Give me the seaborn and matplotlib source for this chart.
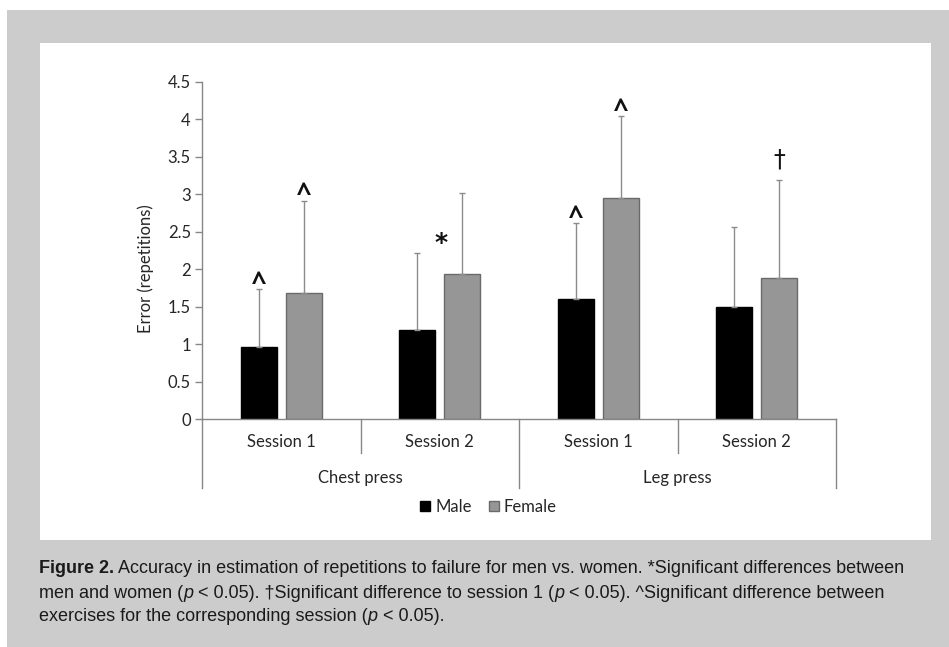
import matplotlib
matplotlib.use('Agg')
import matplotlib.pyplot as plt
import matplotlib.transforms as mtransforms
from matplotlib.patches import Rectangle, Patch
import seaborn as sns
import pandas as pd

# ---------------- data ----------------
exercises = ['Chest press', 'Chest press', 'Leg press', 'Leg press']
sessions = ['Session 1', 'Session 2', 'Session 1', 'Session 2']
sexes = ['Male', 'Female']
male_mean = [0.96, 1.19, 1.60, 1.49]
male_sd = [0.77, 1.03, 1.01, 1.07]
female_mean = [1.68, 1.93, 2.95, 1.88]
female_sd = [1.23, 1.09, 1.09, 1.31]
male_marks = ['^', '', '^', '']
female_marks = ['^', '', '^', '\u2020']
between_marks = ['', '*', '', '']
yticks = [0, 0.5, 1, 1.5, 2, 2.5, 3, 3.5, 4, 4.5]
ylabel = 'Error (repetitions)'
caption_lines = [
    [('Figure 2.', 'bold'), (' Accuracy in estimation of repetitions to failure for men vs. women. *Significant differences between', 'normal')],
    [('men and women (', 'normal'), ('p', 'italic'), (' < 0.05). \u2020Significant difference to session 1 (', 'normal'),
     ('p', 'italic'), (' < 0.05). ^Significant difference between', 'normal')],
    [('exercises for the corresponding session (', 'normal'), ('p', 'italic'), (' < 0.05).', 'normal')],
]

# ---------------- style ----------------
W, H = 949, 647
UI = ['Lato', 'DejaVu Sans']
CAP = ['Liberation Sans Narrow', 'Liberation Sans', 'DejaVu Sans']
AX_GRAY = '#878787'
TXT = '#262626'
MALE_C = '#000000'
FEM_C = '#969696'
FEM_EDGE = '#6a6a6a'
FS = 12
plt.rcParams['font.family'] = UI

fig = plt.figure(figsize=(W / 100, H / 100), dpi=100, facecolor='white')
fig.patches.append(Rectangle((7 / W, 0), 1, 1 - 10 / H, transform=fig.transFigure,
                             facecolor='#cccccc', edgecolor='none', zorder=-10))
fig.patches.append(Rectangle((40 / W, 1 - 540 / H), (931 - 40) / W, (540 - 43) / H,
                             transform=fig.transFigure, facecolor='white', edgecolor='none', zorder=-9))

x0, x1, ytop, ybot = 202, 836, 81.7, 419
ax = fig.add_axes([x0 / W, 1 - ybot / H, (x1 - x0) / W, (ybot - ytop) / H])
ax.set_facecolor('none')

groups = [f'g{i}' for i in range(len(sessions))]
df = pd.DataFrame({
    'group': groups * 2,
    'sex': ['Male'] * 4 + ['Female'] * 4,
    'mean': male_mean + female_mean,
})
sns.barplot(data=df, x='group', y='mean', hue='sex', hue_order=sexes, order=groups,
            palette=[MALE_C, FEM_C], saturation=1, width=0.568, gap=0.2,
            errorbar=None, legend=False, ax=ax, zorder=2)

edges = [MALE_C, FEM_EDGE]
sds = [male_sd, female_sd]
marks = [male_marks, female_marks]
tops = []
for cont, sd, ec, mk in zip(ax.containers, sds, edges, marks):
    t = []
    for bar, s, m in zip(cont, sd, mk):
        bar.set_edgecolor(ec)
        bar.set_linewidth(1)
        xc = bar.get_x() + bar.get_width() / 2
        h = bar.get_height()
        ax.errorbar(xc, h, yerr=[[0], [s]], fmt='none', ecolor='#8c8c8c',
                    elinewidth=1, capsize=2, capthick=1, zorder=3)
        t.append(h + s)
        if m == '^':
            ax.annotate(m, xy=(xc, h + s), xytext=(0, -1), textcoords='offset points',
                        ha='center', va='baseline', fontsize=19, fontweight='bold',
                        family=['Open Sans', 'DejaVu Sans'], color='#111111')
        elif m:
            ax.annotate(m, xy=(xc, h + s), xytext=(0, 6), textcoords='offset points',
                        ha='center', va='bottom', fontsize=17,
                        family=['DejaVu Sans'], color='#111111')
    tops.append(t)
for i, m in enumerate(between_marks):
    if m:
        ax.annotate(m, xy=(i, tops[0][i]), xytext=(1, -2), textcoords='offset points',
                    ha='center', va='bottom', fontsize=18, fontweight='bold',
                    family=['DejaVu Sans'], color='#111111')

ax.set_ylim(0, 4.5)
ax.set_xlim(-0.5, len(sessions) - 0.5)
ax.set_yticks(yticks)
ax.set_yticklabels([f'{t:g}' for t in yticks], fontsize=FS, color=TXT)
ax.tick_params(axis='y', length=5, width=1, color=AX_GRAY, pad=3)
ax.set_xticks([])
ax.set_xlabel('')
ax.set_ylabel(ylabel, fontsize=FS, color=TXT)
ax.yaxis.set_label_coords(-0.075, (ybot - 269) / (ybot - ytop))
for s in ['top', 'right']:
    ax.spines[s].set_visible(False)
for s in ['left', 'bottom']:
    ax.spines[s].set_color(AX_GRAY)
    ax.spines[s].set_linewidth(1)

# hierarchical category axis
ah = ybot - ytop
trans = mtransforms.blended_transform_factory(ax.transData, ax.transAxes)
for i, s in enumerate(sessions):
    ax.text(i, -(442 - ybot) / ah, s, transform=trans, ha='center', va='center',
            fontsize=FS, color=TXT)
short_y = -(453 - ybot) / ah
long_y = -(488 - ybot) / ah
n = len(sessions)
bounds = [-0.5] + [i + 0.5 for i in range(n - 1)] + [n - 0.5]
for k, b in enumerate(bounds):
    if k == 0 or k == n or exercises[k - 1] != exercises[k]:
        yy = long_y
    else:
        yy = short_y
    ax.plot([b, b], [0, yy], transform=trans, clip_on=False, color=AX_GRAY, lw=1)
start = 0
for i in range(1, n + 1):
    if i == n or exercises[i] != exercises[start]:
        ax.text((start + i - 1) / 2, -(478 - ybot) / ah, exercises[start], transform=trans,
                ha='center', va='center', fontsize=FS, color=TXT)
        start = i

fig.legend(handles=[Patch(facecolor=MALE_C, edgecolor=MALE_C),
                    Patch(facecolor=FEM_C, edgecolor=FEM_EDGE)],
           labels=sexes, loc='center', bbox_to_anchor=(488.5 / W, 1 - 507 / H), ncol=2,
           frameon=False, handlelength=0.6, handleheight=0.6, handletextpad=0.3,
           columnspacing=1.0, prop={'size': FS, 'family': UI}, labelcolor=TXT)

# caption
renderer = fig.canvas.get_renderer()


def draw_line(pieces, x, y, size, keep=True):
    arts = []
    cur = x
    for txt, st in pieces:
        kw = dict(fontsize=size, family=CAP, color='#1a1a1a', ha='left', va='baseline')
        if st == 'bold':
            kw['fontweight'] = 'bold'
        if st == 'italic':
            kw['fontstyle'] = 'italic'
        t = fig.text(cur / W, 1 - y / H, txt, **kw)
        bb = t.get_window_extent(renderer)
        cur += bb.width
        arts.append(t)
    if not keep:
        for a in arts:
            a.remove()
    return cur - x


base = 11
wmeas = draw_line(caption_lines[0], 39, 573, base, keep=False)
size = base * (902 - 39) / wmeas
for pieces, yb in zip(caption_lines, [573, 597.5, 621]):
    draw_line(pieces, 39, yb, size)

fig.savefig('out.png', dpi=100, facecolor=fig.get_facecolor())
